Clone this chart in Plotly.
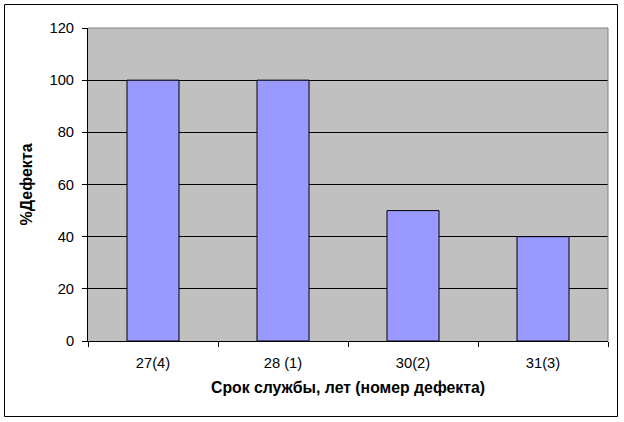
import plotly.graph_objects as go

categories = ["27(4)", "28 (1)", "30(2)", "31(3)"]
values = [100, 100, 50, 40]

L, R, T, B = 88, 16, 28, 81
W, H = 624, 422
pw, ph = W - L - R, H - T - B

def px_x(x):
    return (x - L) / pw

def px_y(y):
    return (H - B - y) / ph

fig = go.Figure(go.Bar(
    x=categories, y=values, width=0.4,
    marker=dict(color="#9999FF", line=dict(color="black", width=1)),
))

fig.update_layout(
    width=W, height=H,
    margin=dict(l=L, r=R, t=T, b=B),
    paper_bgcolor="white", plot_bgcolor="#C0C0C0",
    font=dict(family="Liberation Sans, Arial", size=14.7, color="black"),
    showlegend=False,
    xaxis=dict(
        type="category", tickson="boundaries", ticks="outside", ticklen=5,
        tickcolor="black", showline=True, linecolor="black", linewidth=1,
        showgrid=False, range=[-0.5, 3.5], tickfont=dict(size=14.7),
        ticklabelstandoff=8,
        title=dict(text="<b>Срок службы, лет (номер дефекта)</b>", standoff=12,
                   font=dict(size=15.8)),
    ),
    yaxis=dict(
        range=[0, 120], dtick=20, ticks="outside", ticklen=5, tickcolor="black",
        showline=True, linecolor="black", linewidth=1, tickfont=dict(size=14.7),
        ticklabelstandoff=5,
        showgrid=True, gridcolor="black", gridwidth=1, zeroline=False,
        title=dict(text="<b>%Дефекта</b>", standoff=12, font=dict(size=16)),
    ),
    shapes=[
        dict(type="line", xref="paper", yref="paper", x0=0, x1=1, y0=1, y1=1,
             line=dict(color="#808080", width=1), layer="above"),
        dict(type="line", xref="paper", yref="paper", x0=1, x1=1, y0=0, y1=1,
             line=dict(color="#808080", width=1), layer="above"),
        dict(type="rect", xref="paper", yref="paper",
             x0=px_x(4.5), x1=px_x(617.5), y0=px_y(416.5), y1=px_y(4.5),
             line=dict(color="black", width=1), fillcolor="rgba(0,0,0,0)"),
    ],
)

fig.write_html("out.html", config={"displayModeBar": False},
               post_script="document.body.style.margin='0';")
